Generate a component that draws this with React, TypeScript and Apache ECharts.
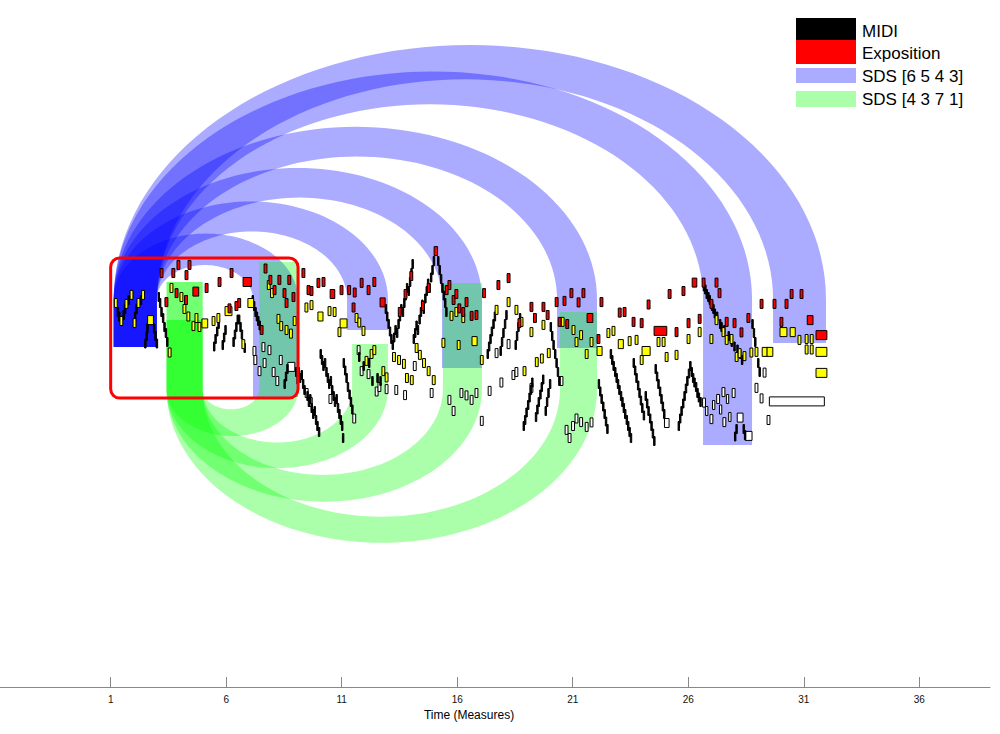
import React, { useEffect, useRef } from "react";
import * as echarts from "echarts";

// ---------- axis ----------
const TICK_MEASURES = [1, 6, 11, 16, 21, 26, 31, 36];
const X_MIN = -3.79;
const X_MAX = 39.06;
const Y_MIN = -45;
const Y_MAX = 184;

// ---------- notes: [start (measures), duration (measures), pitch] ----------
const redNotes: number[][] = [
  [3.14,0.125,93],[3.65,0.125,93],[3.87,0.125,95.7],[4.22,0.125,92.3],[4.35,0.125,95.7],
  [3.35,0.125,83.3],[3.79,0.125,86.3],[4.2,0.125,84],[4.56,0.25,86.8],
  [5.09,0.125,88],[5.65,0.125,90],[6.17,0.125,93],[6.73,0.36,90],[6.08,0.125,81.2],[6.38,0.125,82],[6.5,0.125,83],[7.47,0.125,74],
  [7.64,0.125,94.5],[7.85,0.125,90.7],[8.03,0.125,87.3],[8.24,0.125,90.7],[8.46,0.125,86.3],[8.67,0.125,90.7],[8.55,0.125,83],[8.85,0.125,85],
  [9.28,0.125,93],[9.5,0.125,87.3],[9.63,0.125,87],[9.93,0.125,89.7],[10.15,0.125,90],[10.5,0.2,86],[10.93,0.125,87.3],
  [11.26,0.125,87.3],[11.5,0.125,86.5],[11.8,0.125,89.7],[12.1,0.125,87.3],[12.35,0.125,90],[11.45,0.125,81.5],[12.66,0.22,83.2],
  [13.45,0.125,80],[13.7,0.125,86],[13.95,0.125,92],[14.45,0.125,82],[14.7,0.125,88],[15.0,0.15,100.3],
  [15.48,0.125,87.3],[15.78,0.125,84],[16.03,0.125,81.2],[16.34,0.125,83.3],[16.56,0.125,78.7],[16.77,0.125,79],[15.6,0.125,89],[15.9,0.125,86],[16.2,0.125,80],
  [17.1,0.125,86.3],[17.72,0.125,89],[18.16,0.125,91.3],[19.15,0.125,81.7],[19.67,0.125,81.7],[18.63,0.125,76.3],[19.3,0.125,78],[19.85,0.125,79],
  [20.24,0.125,83.3],[20.58,0.125,83.7],[20.88,0.125,86.3],[21.19,0.125,83.2],[21.4,0.125,86.3],[20.37,0.125,76.7],[20.7,0.125,76],[21.62,0.25,78],[22.05,0.125,71],[22.18,0.125,83.3],
  [22.97,0.125,79.8],[23.18,0.125,80],[23.57,0.125,76.7],[23.92,0.125,76.3],[24.22,0.125,82.5],[24.52,0.55,73.7],[25.13,0.125,86],[25.73,0.125,87],[25.43,0.125,73.3],[25.95,0.125,76.3],
  [26.17,0.2,89.8],[26.6,0.125,89.8],[27.16,0.125,89.8],[27.29,0.125,86.3],[26.94,0.125,82.7],[26.43,0.125,77.7],[27.6,0.125,76.7],[27.94,0.125,76.3],[28.24,0.125,73.2],[28.54,0.125,78],
  [29.11,0.125,82.7],[29.67,0.125,82.7],[30.19,0.125,82.7],[30.41,0.125,86],[30.84,0.125,86],[29.97,0.125,76.7],[31.15,0.25,77.3],[31.53,0.47,72.3],
];

const yellowNotes: number[][] = [
  [1.16,0.125,83],[1.4,0.125,77],[1.62,0.125,82.7],[1.84,0.125,85.7],[1.97,0.125,76.3],[2.14,0.125,83],[2.34,0.125,85.7],[2.6,0.25,77.3],
  [3.49,0.125,66.5],[3.57,0.125,88],[4.0,0.125,85],[4.13,0.125,81],[4.3,0.125,78.5],[4.52,0.125,75.3],[4.65,0.125,78],[4.78,0.125,75],[4.95,0.25,76.2],
  [5.39,0.125,77],[5.6,0.125,78],[5.95,0.3,80.3],[6.68,0.125,69.3],[6.94,0.25,83],
  [7.78,0.125,89],[7.92,0.125,86.3],[8.2,0.125,77.7],[8.32,0.125,75.3],[8.55,0.125,74],[8.74,0.125,72.8],[8.9,0.125,77],
  [9.41,0.125,81.5],[9.63,0.125,82.3],[9.97,0.22,78.5],[10.41,0.125,80.3],[10.63,0.125,80],[10.93,0.3,76.2],[10.84,0.125,73.3],
  [11.58,0.125,78],[11.7,0.125,76.5],[11.88,0.125,73.7],[12.01,0.125,63.7],[12.23,0.125,66],[12.35,0.125,67.3],[12.74,0.125,60.3],[12.88,0.125,58.2],
  [13.2,0.125,65],[13.42,0.125,64],[13.63,0.125,62.7],[13.76,0.125,58],[13.97,0.125,57.3],[14.18,0.125,68],[14.32,0.125,65.7],[14.5,0.125,63],[14.7,0.125,60.3],[14.92,0.125,57.3],
  [15.69,0.125,78.7],[15.9,0.125,80],[16.2,0.125,78],[15.34,0.125,69.7],[16.0,0.125,69],[16.64,0.22,70.3],[17.0,0.125,64],
  [17.64,0.125,80.7],[18.16,0.125,83.3],[18.5,0.125,80.7],[18.72,0.125,76.7],[19.15,0.125,73.3],[19.67,0.125,75.7],[19.38,0.125,63.3],[19.9,0.125,66.3],[18.85,0.125,60.3],[19.6,0.125,64.5],
  [20.5,0.125,76.7],[20.97,0.125,74],[21.1,0.125,70],[21.3,0.125,72.3],[21.75,0.125,70],[21.54,0.125,66],[22.05,0.22,67],
  [22.48,0.125,73],[22.7,0.125,73.7],[22.97,0.22,69.3],[23.4,0.125,70.3],[23.7,0.125,70.7],[24.0,0.35,67],[23.92,0.125,64],[24.65,0.125,70],[24.87,0.125,70],[25.0,0.125,65],[25.43,0.125,65.7],[25.95,0.125,71],
  [26.43,0.125,73.3],[26.94,0.125,71],[27.16,0.125,77.3],[27.46,0.125,73.3],[27.6,0.125,70.7],[27.81,0.125,71],[28.03,0.125,65],[28.16,0.125,66.3],[28.37,0.125,65.3],[28.67,0.125,66.5],[28.89,0.125,66.7],
  [29.2,0.22,66.7],[29.41,0.25,66.7],[29.97,0.3,73.3],[30.41,0.22,73.3],[30.75,0.125,70.7],[31.06,0.125,71],[31.06,0.125,67.5],[31.28,0.125,71],[31.28,0.125,67.5],[31.53,0.47,66.7],[31.53,0.47,59.7],
];

const whiteNotes: number[][] = [
  [7.16,0.125,67],[7.55,0.125,68.3],[7.81,0.125,67.3],[7.38,0.125,60.3],[7.99,0.125,60],[8.67,0.3,61.7],[7.2,0.125,64],[7.6,0.125,63],[8.3,0.125,64],[8.15,0.125,57],
  [9.42,0.125,53],[9.6,0.125,50],[10.45,0.125,51],
  [11.48,0.125,44.5],[11.67,0.125,67.3],[11.8,0.125,60.3],[12.1,0.125,59.3],[12.45,0.125,53.5],[12.57,0.125,55],[12.88,0.125,54.3],
  [13.68,0.125,52.3],[13.3,0.125,54],[14.1,0.125,62],[14.83,0.125,53],
  [15.6,0.125,50.7],[15.78,0.125,47],[16.12,0.125,53],[16.34,0.125,52.2],[16.56,0.125,50.7],[16.77,0.125,53],[17.0,0.125,43.7],
  [17.64,0.125,66.3],[18.16,0.125,69.3],[17.34,0.125,53.7],[17.85,0.125,56.5],[18.37,0.125,59],[18.5,0.125,60],[19.15,0.125,54.7],[20.45,0.125,57],
  [21.1,0.125,44.5],[21.3,0.125,43.3],[21.54,0.125,41.7],[21.75,0.125,43.2],[20.67,0.125,40.7],[20.8,0.125,38],[20.95,0.125,42],
  [24.97,0.2,43],
  [26.62,0.125,49.8],[26.94,0.125,44.3],[27.23,0.125,51],[27.46,0.125,53.3],[27.5,0.125,43.3],[27.9,0.125,53],[28.12,0.25,44.8],[28.46,0.3,38.7],[26.75,0.1,47],[27.05,0.1,49],[27.35,0.1,47.5],[27.65,0.1,51],[27.75,0.1,45],
  [29.24,0.125,59.8],[28.89,0.125,54.7],[29.11,0.125,51.2],[29.41,0.125,44],[29.51,2.38,50.2],
];

// sixteenth-note runs: [start (measures), pitch]
const runNotes: number[][] = [
  [1.28,80],[1.34,78.5],[1.53,79],[1.59,81],[1.75,84],[2.03,78.5],[2.09,81],[2.28,84],[2.47,69.5],[2.53,72],[2.56,74.5],[2.85,74.5],[2.91,72],[2.97,69.5],
  [3.05,85],[3.11,83],[3.17,80],[3.24,78],[3.3,75],[3.36,73],[3.42,70],
  [5.45,68.5],[5.51,71],[5.58,73.5],[5.64,76],[5.82,69],[5.88,71.5],[5.94,74],[6.29,70],[6.35,72.5],[6.41,75],[6.47,77.5],[6.53,77.5],[6.59,75],[6.65,72.5],[6.77,68],
  [7.12,84],[7.18,82],[7.24,80],[7.3,78.5],[7.36,77],[7.42,75.5],
  [8.5,56],[8.56,58.5],[8.62,61],[9.0,60],[9.06,57.5],
  [9.11,60],[9.17,58],[9.24,59],[9.3,56],[9.36,54],[9.49,52],[9.55,50],[9.61,51],[9.67,48],[9.74,46],[9.8,47],[9.86,44],[9.92,42],[9.99,40],
  [10.06,66],[10.12,64],[10.18,62],[10.25,63],[10.31,60],[10.37,58],[10.43,56],[10.5,57],[10.56,54],[10.62,52],[10.68,50],[10.75,51],[10.81,48],[10.87,46],[10.93,44],[10.99,42],[11.03,38],
  [11.06,63],[11.12,60.5],[11.18,58],[11.24,55],[11.31,52.5],[11.37,50],[11.43,47.5],
  [11.73,65],[11.92,62],[12.16,63],[12.3,57],[12.52,58],[12.65,57],
  [12.88,81],[12.94,78.5],[13.0,76],[13.06,73.5],[13.12,71],
  [13.18,69],[13.24,71.5],[13.3,74],[13.37,73],[13.43,76],[13.49,78.5],[13.55,81],[13.62,80],[13.68,83],[13.74,85.5],[13.8,88],[13.87,87],[13.93,90],[13.99,93],[14.04,96],
  [14.09,71],[14.15,73],[14.21,75.5],[14.27,74],[14.34,77.5],[14.4,80],[14.46,82.5],[14.52,81],[14.59,84.5],[14.65,87],[14.71,89.5],[14.77,88],[14.84,91.5],[14.9,94],[14.96,97],
  [15.15,97],[15.21,94],[15.27,91],[15.33,88],[15.39,85.5],[15.45,83],[15.5,80],
  [17.29,66],[17.35,68.5],[17.41,71],[17.47,73.5],[17.54,76],[17.6,78.5],
  [17.85,67],[17.91,70],[17.97,73],[18.04,76],[18.1,79],
  [18.5,69],[18.56,72],[18.62,75],[18.69,78],
  [18.85,42],[18.91,44],[18.97,46.5],[19.04,49],[19.1,51.5],[19.16,54],[19.22,56.5],
  [19.38,45],[19.44,47.5],[19.5,50],[19.57,52.5],[19.63,55],[19.69,57.5],
  [19.8,47],[19.86,50],[19.92,53],[19.99,56],
  [20.02,75],[20.08,72],[20.14,69],[20.21,66],[20.27,63],[20.33,60],[20.39,57],
  [22.1,56],[22.16,53.5],[22.22,51],[22.29,48.5],[22.35,46],[22.41,43.5],[22.47,41],
  [22.62,66],[22.68,64],[22.74,62],[22.81,60],[22.87,58],[22.93,56],[22.99,54],[23.06,52],[23.12,50],[23.18,48],[23.24,46],[23.31,44],[23.37,42],[23.43,40],[23.49,38],
  [23.61,63],[23.67,60.5],[23.73,58],[23.8,55.5],[23.86,53],[23.92,50.5],[23.98,48],[24.05,45.5],
  [24.13,52],[24.19,49.5],[24.25,47],[24.32,44.5],[24.38,42],[24.44,39.5],[24.5,37],
  [24.56,61],[24.62,58.5],[24.68,56],[24.75,53.5],[24.81,51],[24.87,48.5],[24.93,46],
  [25.56,42],[25.62,44.5],[25.68,47],[25.75,49.5],[25.81,52],[25.87,54.5],[25.93,57],[26.0,59.5],[26.06,62],
  [26.12,60],[26.18,58],[26.24,56.5],[26.31,55],[26.37,53],[26.43,51.5],[26.5,50],
  [26.65,88.5],[26.71,87.5],[26.77,86],[26.84,85],[26.9,84],[27.0,82],[27.06,81],[27.12,79.5],[27.22,78.5],[27.35,76],[27.41,75],[27.53,74],[27.72,72],[27.85,70],[27.97,68.5],[28.1,67.5],[28.22,66],[28.3,64],
  [28.0,38.5],[28.06,41],[28.37,41],[28.43,39],
  [28.75,76],[28.81,73],[28.87,70],[29.0,63],[29.06,60],
];

// ---------- SDS arcs ----------
// blue source: [start, end, lower edge pitch]
const blueSource = [1.13, 3.0, 68.3];
// blue targets: [start, end, lower edge pitch]
const blueTargets: number[][] = [
  [7.16, 9.11, 51.7],
  [11.23, 13.0, 74],
  [15.34, 17.07, 61.3],
  [20.32, 22.05, 68],
  [26.64, 28.76, 35.7],
  [29.67, 31.96, 69.7],
];
const BLUE_BASE = 84.2;
// green source: [start, end]
const greenSource = [3.42, 4.98];
// green targets: [start, end, upper edge pitch at target, upper edge pitch at source]
const greenTargets: number[][] = [
  [7.43, 9.11, 96.7, 90],
  [11.45, 13.0, 69.3, 77.3],
  [15.38, 17.07, 89.7, 90],
  [20.45, 22.05, 80, 77.3],
];
const GREEN_BASE = 54.3;
const ARC_ASPECT = 5.5; // pitch units per measure of arc radius

// exposition box: [start, end, top pitch, bottom pitch]
const exposition = [1.0, 9.11, 98, 51.3];

const NOTE_HALF = 1.5;
const SIXTEENTH = 0.0625;
const FONT = '"Liberation Sans", Arial, Helvetica, sans-serif';

function noteSeries(name: string, data: number[][], fill: string) {
  return {
    type: "custom",
    name,
    silent: true,
    data,
    renderItem: (_p: any, api: any) => {
      const s = api.value(0);
      const d = api.value(1);
      const p = api.value(2);
      const a = api.coord([s, p + NOTE_HALF]);
      const b = api.coord([s + d, p - NOTE_HALF]);
      return {
        type: "rect",
        shape: { x: a[0], y: a[1], width: b[0] - a[0], height: b[1] - a[1] },
        style: { fill, stroke: "#000", lineWidth: 1 },
      };
    },
  };
}

function arcSeries(name: string, data: number[][], base: number, dir: number, color: string) {
  const N = 72;
  return {
    type: "custom",
    name,
    silent: true,
    data,
    renderItem: (_p: any, api: any) => {
      const s1 = api.value(0), s2 = api.value(1), t1 = api.value(2), t2 = api.value(3);
      const srcEnd = api.value(4), tgtEnd = api.value(5);
      const pts: number[][] = [];
      pts.push(api.coord([s1, srcEnd]));
      const cO = (s1 + t2) / 2, RO = (t2 - s1) / 2;
      for (let i = 0; i <= N; i++) {
        const th = Math.PI * (1 - i / N);
        pts.push(api.coord([cO + RO * Math.cos(th), base + dir * ARC_ASPECT * RO * Math.sin(th)]));
      }
      pts.push(api.coord([t2, tgtEnd]));
      pts.push(api.coord([t1, tgtEnd]));
      const cI = (s2 + t1) / 2, RI = (t1 - s2) / 2;
      for (let i = 0; i <= N; i++) {
        const th = (Math.PI * i) / N;
        pts.push(api.coord([cI + RI * Math.cos(th), base + dir * ARC_ASPECT * RI * Math.sin(th)]));
      }
      pts.push(api.coord([s2, srcEnd]));
      return { type: "polygon", shape: { points: pts }, style: { fill: color } };
    },
  };
}

const legendItems = [
  { label: "MIDI", color: "#000000", y: 18, h: 22, ty: 31.5 },
  { label: "Exposition", color: "#ff0000", y: 40, h: 24, ty: 53.5 },
  { label: "SDS [6 5 4 3]", color: "rgba(0,0,255,0.33)", y: 68, h: 15, ty: 76.5 },
  { label: "SDS [4 3 7 1]", color: "rgba(0,255,0,0.33)", y: 91, h: 16, ty: 99.5 },
];

export default function App() {
  const ref = useRef<HTMLDivElement>(null);
  useEffect(() => {
    if (!ref.current) return;
    const chart = echarts.init(ref.current, undefined, { renderer: "svg" });
    const blueData = blueTargets.map((t) => [blueSource[0], blueSource[1], t[0], t[1], blueSource[2], t[2]]);
    const greenData = greenTargets.map((t) => [greenSource[0], greenSource[1], t[0], t[1], t[3], t[2]]);
    const runData = runNotes.map((r) => [r[0], SIXTEENTH, r[1]]);

    const graphics: any[] = [];
    legendItems.forEach((it) => {
      graphics.push({ type: "rect", left: 796, top: it.y, shape: { width: 60, height: it.h }, style: { fill: it.color }, silent: true });
      graphics.push({
        type: "text",
        x: 862,
        y: it.ty,
        style: { text: it.label, fill: "#000", fontSize: 17, fontFamily: FONT, verticalAlign: "middle", align: "left" },
        silent: true,
      });
    });

    chart.setOption({
      animation: false,
      backgroundColor: "#ffffff",
      grid: { left: 0, right: 10, top: 0, bottom: 47, containLabel: false },
      xAxis: {
        type: "value",
        min: X_MIN,
        max: X_MAX,
        name: "Time (Measures)",
        nameLocation: "middle",
        nameGap: 21,
        nameTextStyle: { color: "#000", fontSize: 12, fontFamily: FONT, verticalAlign: "top", padding: [0, 52, 0, 0] },
        axisLine: { show: true, onZero: false, lineStyle: { color: "#888", width: 1 } },
        axisTick: { show: true, inside: true, length: 10, customValues: TICK_MEASURES, lineStyle: { color: "#888" } },
        axisLabel: { customValues: TICK_MEASURES, color: "#111", fontSize: 10, fontFamily: FONT, margin: 7 },
        splitLine: { show: false },
      },
      yAxis: { type: "value", min: Y_MIN, max: Y_MAX, show: false },
      series: [
        arcSeries("SDS [6 5 4 3]", blueData, BLUE_BASE, 1, "rgba(0,0,255,0.33)"),
        arcSeries("SDS [4 3 7 1]", greenData, GREEN_BASE, -1, "rgba(0,255,0,0.33)"),
        noteSeries("MIDI white", whiteNotes, "#ffffff"),
        noteSeries("MIDI runs", runData, "#000000"),
        noteSeries("MIDI yellow", yellowNotes, "#ffff00"),
        noteSeries("MIDI red", redNotes, "#ff0000"),
        {
          type: "custom",
          name: "Exposition",
          silent: true,
          data: [exposition],
          renderItem: (_p: any, api: any) => {
            const a = api.coord([api.value(0), api.value(2)]);
            const b = api.coord([api.value(1), api.value(3)]);
            return {
              type: "rect",
              shape: { x: a[0], y: a[1], width: b[0] - a[0], height: b[1] - a[1], r: 9 },
              style: { fill: "none", stroke: "#ff0000", lineWidth: 3 },
            };
          },
        },
      ],
      graphic: graphics,
    });
    return () => chart.dispose();
  }, []);
  return (
    <div
      ref={ref}
      style={{ position: "fixed", left: 0, top: 0, width: 1000, height: 734, background: "#fff" }}
    />
  );
}
